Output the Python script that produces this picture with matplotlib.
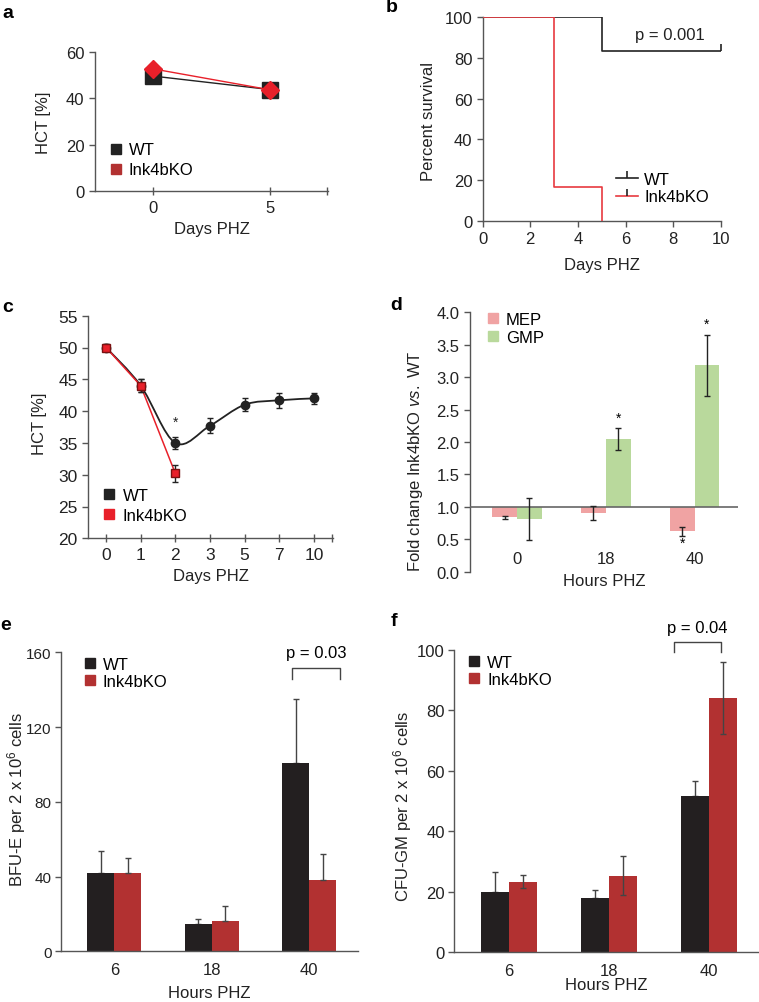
import numpy as np
import matplotlib
matplotlib.use("Agg")
import matplotlib.pyplot as plt
from matplotlib.lines import Line2D
from matplotlib.path import Path
from matplotlib.patches import PathPatch

plt.rcParams['font.family'] = ['Liberation Sans', 'DejaVu Sans']
plt.rcParams['font.size'] = 11
plt.rcParams['mathtext.fontset'] = 'custom'
plt.rcParams['mathtext.rm'] = 'Liberation Sans'
plt.rcParams['mathtext.it'] = 'Liberation Sans:italic'
plt.rcParams['mathtext.bf'] = 'Liberation Sans:bold'

# ---------------- data ----------------
# panel a
days_a = [0, 5]
hct_a_wt = [49.6, 43.8]
hct_a_ko = [52.7, 43.7]

# panel b (Kaplan-Meier)
surv_t_wt = [0, 5, 10]
surv_wt = [100, 83.3, 83.3]
surv_t_ko = [0, 3, 5]
surv_ko = [100, 16.7, 0]

# panel c
days_c_labels = ['0', '1', '2', '3', '5', '7', '10']
hct_c_wt = [50.0, 44.0, 35.0, 37.7, 41.0, 41.7, 42.0]
hct_c_wt_err = [0.5, 1.0, 1.0, 1.2, 1.0, 1.2, 0.9]
hct_c_ko = [50.0, 44.0, 30.2]
hct_c_ko_err = [0.5, 1.0, 1.4]

# panel d
hours_d = ['0', '18', '40']
mep = [0.84, 0.91, 0.62]
mep_err = [0.02, 0.11, 0.07]
gmp = [0.81, 2.05, 3.18]
gmp_err = [0.32, 0.17, 0.47]

# panel e
hours_e = ['6', '18', '40']
bfu_wt = [41.7, 14.6, 100.7]
bfu_wt_err = [11.8, 2.7, 34.3]
bfu_ko = [42.0, 16.4, 38.2]
bfu_ko_err = [7.8, 7.6, 13.8]

# panel f
hours_f = ['6', '18', '40']
cfu_wt = [19.8, 18.1, 51.8]
cfu_wt_err = [6.7, 2.6, 5.0]
cfu_ko = [23.4, 25.3, 84.1]
cfu_ko_err = [2.1, 6.4, 12.0]

# ---------------- style ----------------
BLACK = '#222222'
RED_LINE = '#e8202a'
RED_BAR = '#b23131'
AX_COL = '#555555'
MEP_COL = '#f0a3a3'
GMP_COL = '#b9d99c'
TXT = '#222222'
LAB_FS = 12
LEG_FS = 12

W, H = 759, 1003
fig = plt.figure(figsize=(W / 100, H / 100), dpi=100)


def add_axes_px(left, top, right, bottom):
    return fig.add_axes([left / W, 1 - bottom / H, (right - left) / W, (bottom - top) / H])


def style(ax, fs=12):
    for s in ['top', 'right']:
        ax.spines[s].set_visible(False)
    for s in ['left', 'bottom']:
        ax.spines[s].set_color(AX_COL)
        ax.spines[s].set_linewidth(1.0)
    ax.tick_params(colors=AX_COL, labelcolor=TXT, labelsize=fs, length=4, width=1.0)


def labels(ax, xl, xl_y, yl, yl_x, yl_y=0.5):
    ax.set_xlabel(xl, fontsize=LAB_FS, va='center', color=TXT)
    ax.xaxis.set_label_coords(0.5, xl_y)
    ax.set_ylabel(yl, fontsize=LAB_FS, va='center', color=TXT)
    ax.yaxis.set_label_coords(yl_x, yl_y)


def sq(color):
    return Line2D([], [], ls='none', marker='s', ms=6.5, color=color)


# ---------------- panel a ----------------
ax = add_axes_px(95, 53, 328, 192)
style(ax, 12)
ax.plot(days_a, hct_a_wt, color=BLACK, lw=1, marker='s', ms=11, zorder=3)
ax.plot(days_a, hct_a_ko, color=RED_LINE, lw=1, marker='D', ms=9, zorder=4)
ax.set_xlim(-2.5, 7.5)
ax.set_ylim(0, 60)
ax.set_yticks([0, 20, 40, 60])
ax.set_xticks(days_a)
ax.set_xticks([7.45], minor=True)
ax.tick_params(axis='x', which='both', direction='inout', length=6, color=AX_COL, width=1.0)
labels(ax, 'Days PHZ', -0.273, 'HCT [%]', -0.222)
ax.legend([sq(BLACK), sq(RED_BAR)], ['WT', 'Ink4bKO'], loc='upper left',
          bbox_to_anchor=(0.06, 0.35), frameon=False, borderpad=0, borderaxespad=0,
          handlelength=0.8, handletextpad=0.4, labelspacing=0.3, fontsize=LEG_FS)

# ---------------- panel b ----------------
ax = add_axes_px(482.7, 18.3, 720.7, 221.7)
style(ax, 12)
ax.step(surv_t_ko, surv_ko, where='post', color='#e83a40', lw=1.2, zorder=3)
ax.step(surv_t_wt, surv_wt, where='post', color=BLACK, lw=1.2, zorder=2)
ax.plot([surv_t_wt[-1]], [surv_wt[-1]], ls='none', marker=2, ms=5, mew=1.2, color=BLACK)
ax.set_xlim(0, 10)
ax.set_ylim(0, 100)
ax.set_xticks([0, 2, 4, 6, 8, 10])
ax.set_yticks([0, 20, 40, 60, 80, 100])
labels(ax, 'Days PHZ', -0.213, 'Percent survival', -0.229, 0.495)
ax.text(6.4, 91.5, 'p = 0.001', ha='left', va='center', fontsize=LEG_FS, color=TXT)
hb1 = Line2D([], [], color=BLACK, lw=1.2, marker=2, ms=5, mew=1.2)
hb2 = Line2D([], [], color='#e83a40', lw=1.2, marker=2, ms=5, mew=1.2, mec=BLACK)
ax.legend([hb1, hb2], ['WT', 'Ink4bKO'], loc='upper left', bbox_to_anchor=(0.56, 0.24),
          frameon=False, borderpad=0, borderaxespad=0, handlelength=1.3, handletextpad=0.4,
          labelspacing=0.15, fontsize=LEG_FS)

# ---------------- panel c ----------------
ax = add_axes_px(88, 316.7, 333, 539.3)
style(ax, 12.5)
xc = np.arange(len(days_c_labels))
xk = np.arange(len(hct_c_ko))
# smooth WT curve (Catmull-Rom rendered as cubic Bezier path through the data points)
px = np.asarray(xc, float)
py = np.asarray(hct_c_wt, float)
verts = [(px[0], py[0])]
codes = [Path.MOVETO]
for i in range(len(px) - 1):
    p0 = (px[max(i - 1, 0)], py[max(i - 1, 0)])
    p1 = (px[i], py[i])
    p2 = (px[i + 1], py[i + 1])
    p3 = (px[min(i + 2, len(px) - 1)], py[min(i + 2, len(px) - 1)])
    c1 = (p1[0] + (p2[0] - p0[0]) / 6, p1[1] + (p2[1] - p0[1]) / 6)
    c2 = (p2[0] - (p3[0] - p1[0]) / 6, p2[1] - (p3[1] - p1[1]) / 6)
    verts += [c1, c2, p2]
    codes += [Path.CURVE4] * 3
ax.add_patch(PathPatch(Path(verts, codes), fc='none', ec=BLACK, lw=1.3, zorder=2))
ax.plot(xk, hct_c_ko, color=RED_LINE, lw=1.1, zorder=3)
ax.errorbar(xc, hct_c_wt, yerr=hct_c_wt_err, fmt='o', ms=6, color=BLACK, ecolor=BLACK,
            elinewidth=1, capsize=2, zorder=4)
ax.errorbar(xk, hct_c_ko, yerr=hct_c_ko_err, fmt='s', ms=6, mfc=RED_LINE, mec='#7a1010',
            ecolor=BLACK, elinewidth=1, capsize=2, zorder=5)
ax.text(2, 38.3, '*', ha='center', va='center', fontsize=10, color=TXT)
ax.set_xlim(-0.52, 6.55)
ax.set_ylim(20, 55)
ax.set_yticks([20, 25, 30, 35, 40, 45, 50, 55])
ax.set_xticks(xc)
ax.set_xticklabels(days_c_labels)
ax.set_xticks([6.52], minor=True)
ax.tick_params(axis='x', which='both', direction='inout', length=6, color=AX_COL, width=1.0)
labels(ax, 'Days PHZ', -0.168, 'HCT [%]', -0.196, 0.52)
ax.legend([sq(BLACK), sq(RED_LINE)], ['WT', 'Ink4bKO'], loc='upper left',
          bbox_to_anchor=(0.06, 0.225), frameon=False, borderpad=0, borderaxespad=0,
          handlelength=0.8, handletextpad=0.4, labelspacing=0.3, fontsize=LEG_FS)

# ---------------- panel d ----------------
ax = add_axes_px(470, 313.3, 738, 572.7)
style(ax, 12)
ax.spines['bottom'].set_visible(False)
xd = np.arange(len(hours_d))
bw = 0.28
mep_h = [v - 1 for v in mep]
gmp_h = [v - 1 for v in gmp]
ax.bar(xd - bw / 2, mep_h, bw, bottom=1, color=MEP_COL, zorder=2)
ax.bar(xd + bw / 2, gmp_h, bw, bottom=1, color=GMP_COL, zorder=2)
ax.errorbar(xd - bw / 2, mep, yerr=mep_err, fmt='none', ecolor=BLACK, elinewidth=1, capsize=2, zorder=4)
ax.errorbar(xd + bw / 2, gmp, yerr=gmp_err, fmt='none', ecolor=BLACK, elinewidth=1, capsize=2, zorder=4)
ax.axhline(1.0, color='#666666', lw=1.2, zorder=3)
ax.text(1 + bw / 2, 2.38, '*', ha='center', va='center', fontsize=10)
ax.text(2 + bw / 2, 3.83, '*', ha='center', va='center', fontsize=10)
ax.text(2 - bw / 2, 0.45, '*', ha='center', va='center', fontsize=10)
ax.set_xlim(-0.53, 2.49)
ax.set_ylim(0, 4.0)
ax.set_yticks(np.arange(0, 4.01, 0.5))
ax.set_yticklabels([f'{v:.1f}' for v in np.arange(0, 4.01, 0.5)])
ax.set_xticks(xd)
ax.set_xticklabels(hours_d)
ax.tick_params(axis='x', length=0, pad=-15)
labels(ax, 'Hours PHZ', -0.035, r'Fold change Ink4bKO $\mathit{vs.}$ WT', -0.205, 0.428)
ax.legend([sq(MEP_COL), sq(GMP_COL)], ['MEP', 'GMP'], loc='upper left',
          bbox_to_anchor=(0.06, 1.0), frameon=False, borderpad=0, borderaxespad=0,
          handlelength=0.8, handletextpad=0.4, labelspacing=0.15, fontsize=LEG_FS)


# ---------------- panels e, f ----------------
def bar_panel(ax, yfs, cats, wt, wt_err, ko, ko_err, ko_lower, ylim, yticks, ylabel, lab_pos,
              ptxt, bracket, leg_anchor):
    style(ax, 12)
    ax.tick_params(axis='y', labelsize=yfs, pad=2.5)
    x = np.arange(len(cats))
    bw = 0.276
    ax.bar(x - bw / 2, wt, bw, color='#231f20', zorder=2)
    ax.bar(x + bw / 2, ko, bw, color=RED_BAR, zorder=2)
    ax.errorbar(x - bw / 2, wt, yerr=[np.zeros(len(wt)), wt_err], fmt='none', ecolor='#444444',
                elinewidth=1, capsize=2, zorder=1)
    low = [e if f else 0 for e, f in zip(ko_err, ko_lower)]
    ax.errorbar(x + bw / 2, ko, yerr=[low, ko_err], fmt='none', ecolor='#444444',
                elinewidth=1, capsize=2, zorder=3)
    ax.set_xlim(x[0] - 0.55, x[-1] + 0.5)
    ax.set_ylim(*ylim)
    ax.set_yticks(yticks)
    ax.set_xticks(x)
    ax.set_xticklabels(cats)
    ax.tick_params(axis='x', length=0, pad=8)
    labels(ax, 'Hours PHZ', lab_pos[0], ylabel, lab_pos[1], lab_pos[2])
    x0, x1, yb, yl, yt = bracket
    ax.plot([x0, x0, x1, x1], [yl, yb, yb, yl], color='#444444', lw=1, clip_on=False)
    ax.text((x0 + x1) / 2, yt, ptxt, ha='center', va='center', fontsize=LEG_FS, clip_on=False)
    ax.legend([sq('#231f20'), sq(RED_BAR)], ['WT', 'Ink4bKO'], loc='upper left',
              bbox_to_anchor=leg_anchor, frameon=False, borderpad=0, borderaxespad=0,
              handlelength=0.8, handletextpad=0.4, labelspacing=0.15, fontsize=LEG_FS)


ax = add_axes_px(60.7, 653.3, 358, 952.3)
bar_panel(ax, 11, hours_e, bfu_wt, bfu_wt_err, bfu_ko, bfu_ko_err, [False, False, False],
          (0, 160), [0, 40, 80, 120, 160], r'BFU-E per 2 x 10$^6$ cells',
          (-0.137, -0.150, 0.509), 'p = 0.03', (1.82, 2.32, 151.4, 145.7, 160.0), (0.075, 0.985))

ax = add_axes_px(454, 651, 759, 953.3)
bar_panel(ax, 12, hours_f, cfu_wt, cfu_wt_err, cfu_ko, cfu_ko_err, [True, True, True],
          (0, 100), [0, 20, 40, 60, 80, 100], r'CFU-GM per 2 x 10$^6$ cells',
          (-0.105, -0.168, 0.485), 'p = 0.04', (1.65, 2.12, 102.5, 99.2, 107.3), (0.043, 0.985))

# ---------------- panel letters ----------------
for t, (px_, py_) in {'a': (8, 14), 'b': (392, 8), 'c': (8, 308), 'd': (396, 306),
                      'e': (6, 625), 'f': (394, 622)}.items():
    fig.text(px_ / W, 1 - py_ / H, t, fontsize=14, fontweight='bold', ha='center', va='center')

fig.savefig('out.png', dpi=100)
